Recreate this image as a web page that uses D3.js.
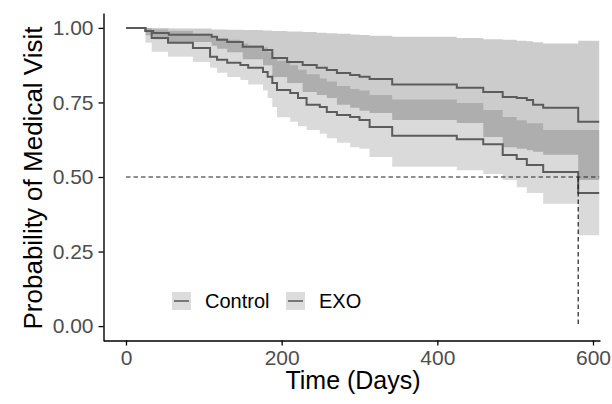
<!DOCTYPE html>
<html lang="en">
<head>
  <meta charset="UTF-8">
  <title>Probability of Medical Visit</title>
  <script src="https://d3js.org/d3.v7.min.js"></script>
  <style>
    body { margin: 0; background: #fff; }
    text { font-family: "Liberation Sans", Arial, sans-serif; }
  </style>
</head>
<body>
  <svg width="612" height="404"></svg>

  <script>
    // Control (upper curve)
    const timeA = [0, 25, 35, 55, 110, 117, 130, 150, 176, 188, 207, 227, 245, 258, 271, 288, 300, 313, 342, 425, 459, 484, 502, 515, 523, 536, 581];
    const survA = [1, .99, .983, .977, .97, .96, .953, .937, .926, .899, .886, .876, .866, .859, .849, .842, .836, .829, .81, .799, .785, .768, .765, .758, .742, .732, .685];
    const lowA  = [1, .975, .962, .953, .94, .93, .918, .895, .875, .835, .815, .785, .775, .765, .742, .732, .722, .715, .691, .681, .634, .60, .595, .59, .585, .575, .49];
    const highA = [1, 1, 1, .998, .995, .995, .994, .993, .991, .99, .988, .986, .984, .982, .98, .978, .976, .974, .97, .966, .962, .96, .957, .955, .952, .948, .957];

    // EXO (lower curve)
    const timeB = [0, 25, 33, 54, 86, 108, 117, 130, 147, 157, 176, 182, 188, 194, 211, 221, 232, 249, 258, 271, 288, 300, 313, 342, 425, 459, 484, 502, 515, 536, 581];
    const survB = [1, .99, .966, .95, .933, .903, .893, .883, .876, .866, .852, .836, .815, .792, .782, .765, .742, .735, .718, .708, .701, .691, .668, .638, .627, .61, .574, .56, .54, .517, .446];
    const lowB  = [1, .95, .92, .903, .886, .866, .85, .835, .825, .81, .79, .765, .735, .70, .685, .67, .658, .645, .63, .615, .60, .595, .567, .534, .523, .51, .49, .466, .446, .41, .305];
    const highB = [1, 1, .995, .99, .98, .97, .965, .96, .948, .942, .935, .92, .90, .89, .875, .86, .845, .83, .82, .805, .795, .79, .775, .76, .748, .725, .701, .69, .68, .658, .658];

    const endTime = 608;
    const medianTime = 581;
    const groups = ["Control", "EXO"];
    const xTicks = [0, 200, 400, 600];
    const yTicks = [0, 0.25, 0.5, 0.75, 1];

    const svg = d3.select("svg");

    const x = d3.scaleLinear().domain([-28.9, 609]).range([103.5, 600]);
    const y = d3.scaleLinear().domain([-0.05, 1.05]).range([341, 13]);

    function rows(time, surv, low, high) {
      const r = time.map((t, i) => ({ t, s: surv[i], lo: low[i], hi: high[i] }));
      const last = r[r.length - 1];
      r.push({ t: endTime, s: last.s, lo: last.lo, hi: last.hi });
      return r;
    }
    const dataA = rows(timeA, survA, lowA, highA);
    const dataB = rows(timeB, survB, lowB, highB);

    const area = d3.area()
      .curve(d3.curveStepAfter)
      .x(d => x(d.t))
      .y0(d => y(d.lo))
      .y1(d => y(d.hi));

    const line = d3.line()
      .curve(d3.curveStepAfter)
      .x(d => x(d.t))
      .y(d => y(d.s));

    // confidence bands
    svg.append("path").attr("d", area(dataA))
      .attr("fill", "#000").attr("fill-opacity", 0.2);
    svg.append("path").attr("d", area(dataB))
      .attr("fill", "#000").attr("fill-opacity", 0.145);

    // survival curves
    [dataA, dataB].forEach(d => {
      svg.append("path").attr("d", line(d))
        .attr("fill", "none")
        .attr("stroke", "#5c5c5c")
        .attr("stroke-width", 2);
    });

    // median lines
    svg.append("line")
      .attr("x1", x(0)).attr("x2", x(endTime))
      .attr("y1", y(0.5)).attr("y2", y(0.5))
      .attr("stroke", "#222").attr("stroke-width", 1.2)
      .attr("stroke-dasharray", "4.5,3");
    svg.append("line")
      .attr("x1", x(medianTime)).attr("x2", x(medianTime))
      .attr("y1", y(0.5)).attr("y2", y(0))
      .attr("stroke", "#222").attr("stroke-width", 1.2)
      .attr("stroke-dasharray", "4.5,3");

    // axes
    const xAxis = svg.append("g")
      .attr("transform", "translate(0,340.5)")
      .call(d3.axisBottom(x).tickValues(xTicks).tickSize(5).tickPadding(5).tickSizeOuter(0));
    const yAxis = svg.append("g")
      .attr("transform", "translate(103.5,0)")
      .call(d3.axisLeft(y).tickValues(yTicks).tickFormat(d3.format(".2f")).tickSize(5).tickPadding(5).tickSizeOuter(0));

    [xAxis, yAxis].forEach(g => {
      g.select(".domain").attr("stroke", "#000").attr("stroke-width", 1.4);
      g.selectAll(".tick line").attr("stroke", "#000").attr("stroke-width", 1.3);
      g.selectAll(".tick text")
        .attr("fill", "#4d4d4d")
        .style("font-size", "21px")
        .style("font-family", "'Liberation Sans', Arial, sans-serif");
    });

    // axis titles
    svg.append("text")
      .attr("x", 353).attr("y", 389)
      .attr("text-anchor", "middle")
      .style("font-size", "25px")
      .text("Time (Days)");

    svg.append("text")
      .attr("transform", "translate(42,178) rotate(-90)")
      .attr("text-anchor", "middle")
      .style("font-size", "26px")
      .text("Probability of Medical Visit");

    // legend
    const legendX = [172, 286];
    const legend = svg.append("g");
    groups.forEach((g, i) => {
      legend.append("rect")
        .attr("x", legendX[i]).attr("y", 292)
        .attr("width", 19).attr("height", 18)
        .attr("fill", "#dcdcdc");
      legend.append("line")
        .attr("x1", legendX[i] + 2).attr("x2", legendX[i] + 17)
        .attr("y1", 301).attr("y2", 301)
        .attr("stroke", "#777").attr("stroke-width", 2);
      legend.append("text")
        .attr("x", legendX[i] + 33).attr("y", 308)
        .style("font-size", "20px")
        .text(g);
    });
  </script>
</body>
</html>
